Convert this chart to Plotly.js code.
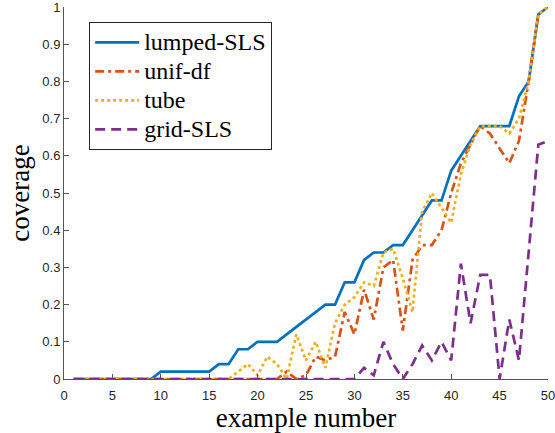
<!DOCTYPE html>
<html>
<head>
<meta charset="utf-8">
<script src="https://cdn.plot.ly/plotly-3.0.1.min.js"></script>
<style>html,body{margin:0;padding:0;background:#fff;}#chart{width:555px;height:433px;}</style>
</head>
<body>
<div id="chart"></div>
<script>
const exampleNumber = [1,2,3,4,5,6,7,8,9,10,11,12,13,14,15,16,17,18,19,20,21,22,23,24,25,26,27,28,29,30,31,32,33,34,35,36,37,38,39,40,41,42,43,44,45,46,47,48,49,50];
const lumpedSLS = [0,0,0,0,0,0,0,0,0,0.02,0.02,0.02,0.02,0.02,0.02,0.04,0.04,0.08,0.08,0.1,0.1,0.1,0.12,0.14,0.16,0.18,0.2,0.2,0.26,0.26,0.32,0.34,0.34,0.36,0.36,0.4,0.44,0.48,0.48,0.56,0.6,0.64,0.68,0.68,0.68,0.68,0.76,0.8,0.98,1.0];
const unifDf = [0,0,0,0,0,0,0,0,0,0,0,0,0,0,0,0,0,0,0,0,0,0,0.02,0,0.01,0.06,0.05,0.06,0.18,0.12,0.24,0.16,0.3,0.32,0.13,0.32,0.36,0.36,0.4,0.5,0.58,0.63,0.68,0.66,0.62,0.58,0.64,0.8,0.98,1.0];
const tube = [0,0,0,0,0,0,0,0,0,0,0,0,0,0,0,0,0,0.02,0.04,0.01,0.06,0.04,0,0.12,0.05,0.1,0.03,0.15,0.2,0.22,0.26,0.25,0.34,0.35,0.27,0.18,0.45,0.5,0.46,0.42,0.55,0.63,0.68,0.68,0.68,0.66,0.7,0.8,0.98,1.0];
const gridSLS = [0,0,0,0,0,0,0,0,0,0,0,0,0,0,0,0,0,0,0,0,0,0,0,0,0,0,0,0,0,0,0.03,0.01,0.1,0.04,0,0.04,0.09,0.05,0.1,0.05,0.31,0.15,0.28,0.28,0,0.16,0.05,0.34,0.63,0.64];
const seriesNames = ['lumped-SLS', 'unif-df', 'tube', 'grid-SLS'];
const xTicks = [0,5,10,15,20,25,30,35,40,45,50];
const yTicks = [0,0.1,0.2,0.3,0.4,0.5,0.6,0.7,0.8,0.9,1];
const yTickText = ['0','0.1','0.2','0.3','0.4','0.5','0.6','0.7','0.8','0.9','1'];

const serif = 'Liberation Serif';
const legName = n => '<span style="font-family:Liberation Serif;font-size:24px">' + n + '</span>';

const traces = [
  {x: exampleNumber, y: lumpedSLS, name: legName(seriesNames[0]), mode: 'lines', line: {color: '#0072BD', width: 2.7}},
  {x: exampleNumber, y: unifDf, name: legName(seriesNames[1]), mode: 'lines', line: {color: '#D95319', width: 2.7, dash: '9px,4px,3px,4px'}},
  {x: exampleNumber, y: tube, name: legName(seriesNames[2]), mode: 'lines', line: {color: '#EDB120', width: 2.7, dash: '3px,3px'}},
  {x: exampleNumber, y: gridSLS, name: legName(seriesNames[3]), mode: 'lines', line: {color: '#7E2F8E', width: 2.7, dash: '10px,6px'}}
];

const tickFont = {family: 'Liberation Sans', size: 13, color: '#262626'};

const layout = {
  width: 555, height: 433,
  margin: {l: 64, r: 7, t: 7, b: 54},
  paper_bgcolor: '#ffffff', plot_bgcolor: '#ffffff',
  font: {family: serif, size: 20, color: '#000000'},
  showlegend: true,
  legend: {
    x: 0.052, y: 0.96, xanchor: 'left', yanchor: 'top',
    bgcolor: '#ffffff', bordercolor: '#262626', borderwidth: 1,
    font: {family: serif, size: 20, color: '#000000'},
    itemwidth: 44,
    tracegroupgap: 0
  },
  xaxis: {
    range: [0, 50], tickvals: xTicks, ticktext: xTicks.map(String),
    showgrid: false, zeroline: false, showline: true, linecolor: '#555555', linewidth: 1,
    ticks: 'inside', ticklen: 5, tickcolor: '#555555', tickfont: tickFont, ticklabeloverflow: 'allow',
    ticklabelstandoff: 4,
    title: {text: 'example number', font: {family: serif, size: 27, color: '#000000'}, standoff: 8}
  },
  yaxis: {
    range: [0, 1], tickvals: yTicks, ticktext: yTickText,
    showgrid: false, zeroline: false, showline: true, linecolor: '#555555', linewidth: 1,
    ticks: 'inside', ticklen: 5, tickcolor: '#555555', tickfont: tickFont, ticklabeloverflow: 'allow',
    title: {text: 'coverage', font: {family: serif, size: 27, color: '#000000'}, standoff: 4}
  }
};

Plotly.newPlot('chart', traces, layout, {displayModeBar: false, staticPlot: true});
</script>
</body>
</html>
